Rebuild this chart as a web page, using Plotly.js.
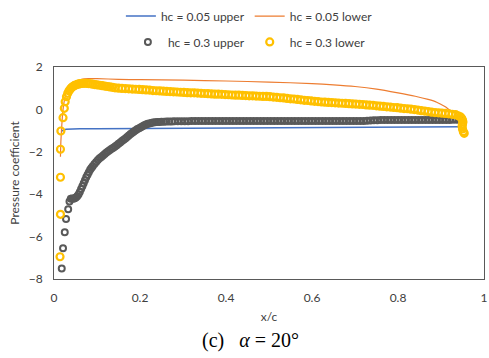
<!DOCTYPE html>
<html>
<head>
<meta charset="utf-8">
<script src="https://cdn.plot.ly/plotly-3.0.1.min.js"></script>
<style>html,body{margin:0;padding:0;background:#fff;}#chart{width:489px;height:358px;}</style>
</head>
<body>
<div id="chart"></div>
<script>
// hc = 0.05 upper (line)
var xU05 = [0.018,0.022,0.028,0.040,0.060,0.100,0.200,0.300,0.400,0.500,0.600,0.700,0.800,0.900,0.948];
var yU05 = [-1.02,-0.97,-0.94,-0.92,-0.91,-0.91,-0.90,-0.89,-0.88,-0.87,-0.85,-0.84,-0.83,-0.82,-0.82];

// hc = 0.05 lower (line)
var xL05 = [0.015,0.016,0.018,0.020,0.023,0.027,0.032,0.040,0.050,0.060,0.070,0.080,0.100,0.150,0.200,0.300,0.400,0.500,0.600,0.650,0.700,0.750,0.800,0.840,0.870,0.890,0.910,0.920,0.935,0.951,0.953];
var yL05 = [-2.23,-1.50,-0.80,-0.20,0.30,0.70,1.00,1.20,1.32,1.40,1.44,1.45,1.45,1.42,1.40,1.38,1.34,1.29,1.22,1.16,1.08,0.96,0.78,0.62,0.47,0.34,0.12,-0.03,-0.20,-0.38,-0.50];

// hc = 0.3 upper (markers)
var xU3 = [0.018,0.021,0.025,0.028,0.033,0.036,0.039,0.042,0.045,0.048,0.051,0.054,0.057,0.060,0.063,0.066,0.069,0.072,0.075,0.078,0.081,0.084,0.087,0.090,0.094,0.098,0.102,0.106,0.110,0.114,0.118,0.122,0.126,0.130,0.134,0.138,0.142,0.146,0.150,0.154,0.158,0.162,0.166,0.170,0.174,0.178,0.182,0.186,0.190,0.194,0.198,0.202,0.206,0.210,0.214,0.218,0.222,0.226,0.230,0.235,0.240,0.245,0.250,0.256,0.262,0.268,0.274,0.280,0.288,0.296,0.304,0.312,0.320,0.328,0.336,0.344,0.352,0.360,0.368,0.376,0.384,0.392,0.400,0.408,0.416,0.424,0.432,0.440,0.448,0.456,0.464,0.472,0.480,0.488,0.496,0.504,0.512,0.520,0.528,0.536,0.544,0.552,0.560,0.568,0.576,0.584,0.592,0.600,0.608,0.616,0.624,0.632,0.640,0.648,0.656,0.664,0.672,0.680,0.688,0.696,0.704,0.712,0.720,0.728,0.736,0.744,0.752,0.760,0.768,0.776,0.784,0.792,0.800,0.808,0.816,0.824,0.832,0.840,0.848,0.856,0.864,0.872,0.880,0.888,0.896,0.904,0.912,0.920,0.928,0.936,0.942,0.946];
var yU3 = [-7.50,-6.55,-5.80,-5.17,-4.71,-4.35,-4.22,-4.20,-4.21,-4.19,-4.15,-4.10,-4.02,-3.90,-3.76,-3.62,-3.48,-3.34,-3.20,-3.08,-2.96,-2.85,-2.76,-2.68,-2.58,-2.48,-2.39,-2.31,-2.24,-2.17,-2.10,-2.03,-1.97,-1.91,-1.86,-1.81,-1.75,-1.69,-1.62,-1.56,-1.49,-1.43,-1.37,-1.30,-1.23,-1.16,-1.10,-1.04,-0.98,-0.93,-0.89,-0.84,-0.79,-0.75,-0.71,-0.68,-0.66,-0.64,-0.62,-0.61,-0.60,-0.59,-0.58,-0.58,-0.57,-0.57,-0.57,-0.56,-0.56,-0.56,-0.56,-0.56,-0.55,-0.55,-0.55,-0.55,-0.55,-0.55,-0.55,-0.55,-0.55,-0.55,-0.55,-0.55,-0.55,-0.55,-0.55,-0.55,-0.55,-0.55,-0.55,-0.55,-0.55,-0.55,-0.55,-0.55,-0.55,-0.55,-0.55,-0.55,-0.55,-0.55,-0.55,-0.55,-0.55,-0.55,-0.55,-0.55,-0.55,-0.55,-0.55,-0.55,-0.55,-0.55,-0.55,-0.55,-0.55,-0.55,-0.55,-0.55,-0.55,-0.55,-0.55,-0.53,-0.52,-0.51,-0.51,-0.50,-0.50,-0.50,-0.50,-0.50,-0.50,-0.50,-0.50,-0.50,-0.50,-0.50,-0.50,-0.50,-0.50,-0.50,-0.50,-0.50,-0.50,-0.50,-0.50,-0.50,-0.49,-0.49,-0.48,-0.48];

// hc = 0.3 lower (markers)
var xL3 = [0.014,0.015,0.015,0.015,0.016,0.021,0.024,0.026,0.029,0.032,0.035,0.038,0.041,0.044,0.047,0.050,0.054,0.058,0.062,0.066,0.070,0.075,0.080,0.085,0.090,0.095,0.100,0.106,0.112,0.118,0.124,0.130,0.136,0.142,0.150,0.158,0.166,0.174,0.182,0.190,0.198,0.206,0.214,0.222,0.230,0.238,0.246,0.254,0.262,0.270,0.278,0.286,0.294,0.302,0.310,0.318,0.326,0.334,0.342,0.350,0.358,0.366,0.374,0.382,0.390,0.398,0.406,0.414,0.422,0.430,0.438,0.446,0.454,0.462,0.470,0.478,0.486,0.494,0.502,0.510,0.518,0.526,0.534,0.542,0.550,0.558,0.566,0.574,0.582,0.590,0.598,0.606,0.614,0.622,0.630,0.638,0.646,0.654,0.662,0.670,0.678,0.686,0.694,0.702,0.710,0.718,0.726,0.734,0.742,0.750,0.758,0.766,0.774,0.782,0.790,0.798,0.806,0.814,0.822,0.830,0.838,0.846,0.854,0.862,0.870,0.878,0.886,0.894,0.902,0.910,0.918,0.926,0.934,0.940,0.945,0.948,0.950,0.951,0.950,0.949,0.950,0.952,0.954];
var yL3 = [-6.95,-4.95,-3.20,-1.88,-1.02,-0.39,0.05,0.36,0.60,0.76,0.88,0.96,1.03,1.08,1.12,1.15,1.18,1.20,1.22,1.23,1.23,1.23,1.22,1.21,1.19,1.17,1.16,1.14,1.12,1.10,1.08,1.06,1.04,1.02,1.00,0.99,0.98,0.97,0.96,0.95,0.94,0.93,0.92,0.91,0.89,0.88,0.87,0.86,0.85,0.84,0.83,0.82,0.81,0.80,0.79,0.78,0.78,0.77,0.76,0.75,0.74,0.73,0.72,0.72,0.71,0.70,0.69,0.68,0.67,0.67,0.66,0.65,0.64,0.64,0.63,0.62,0.61,0.61,0.60,0.58,0.57,0.55,0.54,0.52,0.50,0.49,0.47,0.45,0.43,0.42,0.40,0.38,0.37,0.35,0.34,0.33,0.32,0.31,0.30,0.29,0.28,0.27,0.26,0.25,0.24,0.23,0.21,0.20,0.19,0.17,0.15,0.14,0.12,0.11,0.09,0.08,0.06,0.04,0.03,0.01,-0.01,-0.03,-0.06,-0.08,-0.10,-0.13,-0.15,-0.16,-0.18,-0.19,-0.21,-0.23,-0.25,-0.30,-0.35,-0.42,-0.50,-0.60,-0.70,-0.80,-0.92,-1.05,-1.13];

var tickFont = {family: 'Lato, "Open Sans", sans-serif', size: 12, color: '#404040'};

var traces = [
  {x: xU05, y: yU05, type: 'scatter', mode: 'lines', name: 'hc = 0.05 upper',
   line: {color: '#4472C4', width: 1.5}, legend: 'legend'},
  {x: xL05, y: yL05, type: 'scatter', mode: 'lines', name: 'hc = 0.05 lower',
   line: {color: '#ED7D31', width: 1.2, shape: 'spline', smoothing: 0.6}, legend: 'legend'},
  {x: xU3, y: yU3, type: 'scatter', mode: 'markers', name: 'hc = 0.3 upper',
   marker: {symbol: 'circle-open', size: 6, color: '#595959', line: {width: 2}}, legend: 'legend2'},
  {x: xL3, y: yL3, type: 'scatter', mode: 'markers', name: 'hc = 0.3 lower',
   marker: {symbol: 'circle-open', size: 7, color: '#FFC000', line: {width: 2.2}}, legend: 'legend2'}
];

var layout = {
  width: 489, height: 358,
  margin: {l: 54, r: 5, t: 67, b: 79},
  paper_bgcolor: '#fff', plot_bgcolor: '#fff',
  font: {family: 'Lato, "Open Sans", sans-serif', size: 12, color: '#404040'},
  showlegend: true,
  legend: {orientation: 'h', xref: 'container', yref: 'container', x: 0.51, xanchor: 'center',
           y: 0.955, yanchor: 'middle', font: tickFont, bgcolor: 'rgba(0,0,0,0)', itemwidth: 30},
  legend2: {orientation: 'h', xref: 'container', yref: 'container', x: 0.51, xanchor: 'center',
           y: 0.883, yanchor: 'middle', font: tickFont, bgcolor: 'rgba(0,0,0,0)', itemwidth: 30},
  xaxis: {range: [0, 1], dtick: 0.2, tick0: 0, showgrid: false, zeroline: false,
          showline: true, mirror: true, linecolor: '#595959', linewidth: 1,
          ticks: '', ticklabelstandoff: 8, ticklabeloverflow: 'allow', tickfont: tickFont,
          title: {text: 'x/c', font: tickFont, standoff: 8}},
  yaxis: {range: [-8, 2], dtick: 2, tick0: 0, showgrid: false, zeroline: false,
          showline: true, mirror: true, linecolor: '#595959', linewidth: 1,
          ticks: '', ticklabelstandoff: 8, tickfont: tickFont,
          title: {text: 'Pressure coefficient', font: tickFont, standoff: 6}},
  annotations: [{
    xref: 'paper', yref: 'paper', x: 0.456, y: -0.288, xanchor: 'center', yanchor: 'middle',
    text: '(c)&nbsp;&nbsp; <i>α</i> = 20°', showarrow: false,
    font: {family: '"Liberation Serif", "DejaVu Serif", serif', size: 20, color: '#000'}
  }]
};

Plotly.newPlot('chart', traces, layout, {displayModeBar: false, staticPlot: true});
</script>
</body>
</html>
